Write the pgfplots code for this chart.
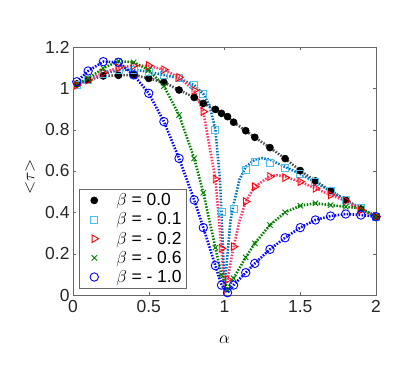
\documentclass[border=0pt]{standalone}
\usepackage{pgfplots}
\pgfplotsset{compat=1.18}
\usepackage{fontspec}
\setmainfont{Liberation Sans}

\definecolor{mblack}{RGB}{0,0,0}
\definecolor{mgray}{RGB}{80,80,80}
\definecolor{mcyan}{RGB}{77,190,238}
\definecolor{mcyanl}{RGB}{0,114,189}
\definecolor{mred}{RGB}{255,0,0}
\definecolor{mredl}{RGB}{255,51,102}
\definecolor{mgreen}{RGB}{0,128,0}
\definecolor{mblue}{RGB}{0,0,255}

% beta = 0.0
\pgfplotstableread{
x y
0.025 1.021
0.1 1.040
0.2 1.060
0.3 1.063
0.4 1.065
0.5 1.048
0.6 1.029
0.7 0.992
0.8 0.956
0.86 0.927
0.94 0.898
0.98 0.879
1.02 0.863
1.06 0.836
1.14 0.795
1.2 0.763
1.3 0.713
1.4 0.660
1.5 0.602
1.6 0.552
1.7 0.505
1.8 0.458
1.9 0.416
2.0 0.379
}\tzero

% beta = -0.1
\pgfplotstableread{
x y
0.025 1.018
0.1 1.042
0.2 1.070
0.3 1.088
0.4 1.090
0.5 1.080
0.6 1.065
0.7 1.048
0.8 1.015
0.86 0.973
0.94 0.800
0.98 0.403
1.06 0.418
1.14 0.607
1.2 0.642
1.3 0.640
1.4 0.615
1.5 0.586
1.6 0.545
1.7 0.503
1.8 0.460
1.9 0.419
2.0 0.379
}\tone
\pgfplotstableread{
x y
0.025 1.018
0.1 1.042
0.2 1.070
0.3 1.088
0.4 1.090
0.5 1.080
0.6 1.065
0.7 1.048
0.8 1.015
0.86 0.973
0.9 0.920
0.94 0.800
0.97 0.560
0.98 0.403
1.0 0.030
1.02 0.200
1.04 0.360
1.06 0.440
1.1 0.560
1.14 0.620
1.2 0.655
1.25 0.662
1.3 0.655
1.4 0.620
1.5 0.586
1.6 0.545
1.7 0.503
1.8 0.460
1.9 0.419
2.0 0.379
}\tonel

% beta = -0.2
\pgfplotstableread{
x y
0.025 1.016
0.1 1.040
0.2 1.075
0.3 1.100
0.4 1.110
0.5 1.110
0.6 1.090
0.7 1.053
0.8 0.990
0.86 0.887
0.94 0.561
0.98 0.226
1.02 0.075
1.06 0.234
1.14 0.452
1.2 0.524
1.3 0.573
1.4 0.568
1.5 0.548
1.6 0.516
1.7 0.484
1.8 0.455
1.9 0.411
2.0 0.379
}\ttwo
\pgfplotstableread{
x y
0.025 1.016
0.1 1.040
0.2 1.075
0.3 1.100
0.4 1.110
0.5 1.110
0.6 1.090
0.7 1.053
0.8 0.990
0.86 0.887
0.94 0.561
0.98 0.226
1.0 0.020
1.02 0.075
1.06 0.234
1.1 0.360
1.14 0.452
1.2 0.524
1.3 0.575
1.35 0.580
1.4 0.572
1.5 0.548
1.6 0.516
1.7 0.484
1.8 0.455
1.9 0.411
2.0 0.379
}\ttwol

% beta = -0.6
\pgfplotstableread{
x y
0.025 1.020
0.1 1.048
0.2 1.097
0.3 1.132
0.4 1.126
0.5 1.089
0.6 1.011
0.7 0.871
0.8 0.661
0.86 0.495
0.94 0.229
0.98 0.097
1.02 0.027
1.06 0.081
1.14 0.182
1.2 0.250
1.3 0.339
1.4 0.400
1.5 0.432
1.6 0.444
1.7 0.435
1.8 0.427
1.9 0.419
2.0 0.379
}\tsix

% beta = -1.0
\pgfplotstableread{
x y
0.025 1.032
0.1 1.084
0.2 1.129
0.3 1.126
0.4 1.065
0.5 0.976
0.6 0.839
0.7 0.661
0.8 0.460
0.86 0.326
0.94 0.142
0.98 0.048
1.02 0.011
1.06 0.048
1.14 0.108
1.2 0.153
1.3 0.221
1.4 0.277
1.5 0.326
1.6 0.363
1.7 0.382
1.8 0.392
1.9 0.387
2.0 0.379
}\tten

\begin{document}
\begin{tikzpicture}
\path[use as bounding box] (0,0) rectangle (407bp,366bp);
\begin{axis}[
  at={(73bp,71bp)}, anchor=south west,
  scale only axis,
  width=303bp, height=248bp,
  xmin=0, xmax=2, ymin=0, ymax=1.2,
  xtick={0,0.5,1,1.5,2},
  ytick={0,0.2,0.4,0.6,0.8,1,1.2},
  /pgf/number format/assume math mode=true,
  tick label style={font=\fontsize{17.5}{19}\selectfont, text=black!85},
  xticklabel style={yshift=-2bp},
  axis line style={black!60},
  tick style={black!60},
  tick align=inside,
  major tick length=3bp,
  xlabel={$\alpha$},
  ylabel={${<}\tau{>}$},
  label style={font=\fontsize{18}{20}\selectfont},
  xlabel style={at={(axis description cs:0.5,-0.181)}, anchor=center},
  ylabel style={at={(axis description cs:-0.142,0.476)}, anchor=center},
  legend style={at={(0.02,0.028)}, anchor=south west, draw=black!60,
    font=\fontsize{17.5}{19}\selectfont, inner xsep=3bp, inner ysep=2bp,
    row sep=1.5bp, cells={anchor=west}},
  legend cell align=left,
]
% dotted curves
\addplot[forget plot, mgray, line width=2.6pt, dash pattern=on 1.5pt off 1.5pt] table {\tzero};
\addplot[forget plot, mcyanl, line width=2.6pt, dash pattern=on 1.5pt off 1.5pt] table {\tonel};
\addplot[forget plot, mredl, line width=2.6pt, dash pattern=on 1.5pt off 1.5pt] table {\ttwol};
\addplot[forget plot, mgreen, line width=2.6pt, dash pattern=on 1.5pt off 1.5pt] table {\tsix};
\addplot[forget plot, mblue, line width=2.6pt, dash pattern=on 1.5pt off 1.5pt] table {\tten};
% markers
\pgfplotsset{legend image code/.code={
  \path[draw=none, fill=none] (0bp,-1bp) rectangle (32bp,1bp);
  \draw[#1] plot[only marks] coordinates {(12bp,0bp)};}}
\addplot[only marks, mark=*, mark size=3.5bp, mblack, line width=0.6pt] table {\tzero};
\addlegendentry{$\beta$ = 0.0}
\addplot[only marks, mark=square, mark size=3.5bp, mcyan, line width=0.9pt] table {\tone};
\addlegendentry{$\beta$ = - 0.1}
\addplot[only marks, mark=triangle, mark size=4.4bp, mark options={rotate=-90}, mred, line width=0.9pt] table {\ttwo};
\addlegendentry{$\beta$ = - 0.2}
\addplot[only marks, mark=x, mark size=3.8bp, mgreen, line width=0.9pt] table {\tsix};
\addlegendentry{$\beta$ = - 0.6}
\addplot[only marks, mark=o, mark size=4.2bp, mblue, line width=0.9pt] table {\tten};
\addlegendentry{$\beta$ = - 1.0}
\end{axis}
\end{tikzpicture}
\end{document}
